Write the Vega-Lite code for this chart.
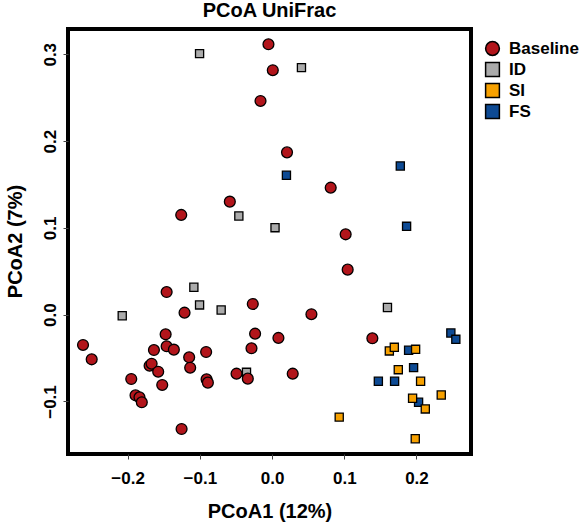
{
  "$schema": "https://vega.github.io/schema/vega-lite/v6.json",
  "width": 403,
  "height": 425,
  "autosize": {"type": "none"},
  "padding": {"left": 68, "top": 29, "right": 109, "bottom": 69},
  "background": "white",
  "title": {"text": "PCoA UniFrac", "frame": "group", "anchor": "middle", "baseline": "alphabetic", "offset": 10, "dy": 18},
  "config": {
    "font": "Liberation Sans",
    "view": {"stroke": "black", "strokeWidth": 4},
    "title": {"font": "Liberation Sans", "fontSize": 20, "fontWeight": "bold", "color": "black"},
    "axis": {
      "labelFont": "Liberation Sans", "labelFontSize": 17, "labelFontWeight": "bold", "labelColor": "black",
      "titleFont": "Liberation Sans", "titleFontSize": 20, "titleFontWeight": "bold", "titleColor": "black",
      "grid": false, "domain": false, "tickSize": 5, "tickColor": "#444", "tickWidth": 1
    },
    "legend": {
      "labelFont": "Liberation Sans", "labelFontSize": 17, "labelFontWeight": "bold", "labelColor": "black",
      "symbolStrokeColor": "black", "symbolStrokeWidth": 1.5, "symbolSize": 190, "rowPadding": 0, "labelOffset": 8
    }
  },
  "datasets": {
    "pts": [
      {"g": "ID", "x": -0.1004, "y": 0.3007},
      {"g": "ID", "x": 0.0407, "y": 0.2846},
      {"g": "ID", "x": -0.046, "y": 0.1137},
      {"g": "ID", "x": 0.0041, "y": 0.1002},
      {"g": "ID", "x": -0.1083, "y": 0.0316},
      {"g": "ID", "x": -0.1004, "y": 0.0112},
      {"g": "ID", "x": -0.0705, "y": 0.0054},
      {"g": "ID", "x": -0.2075, "y": -0.0012},
      {"g": "ID", "x": 0.1598, "y": 0.0083},
      {"g": "ID", "x": -0.0354, "y": -0.0664},
      {"g": "FS", "x": 0.0199, "y": 0.1606},
      {"g": "FS", "x": 0.1776, "y": 0.1713},
      {"g": "FS", "x": 0.1863, "y": 0.1018},
      {"g": "FS", "x": 0.2476, "y": -0.0211},
      {"g": "FS", "x": 0.2545, "y": -0.0284},
      {"g": "FS", "x": 0.1891, "y": -0.041},
      {"g": "FS", "x": 0.196, "y": -0.061},
      {"g": "FS", "x": 0.1472, "y": -0.0767},
      {"g": "FS", "x": 0.1697, "y": -0.0767},
      {"g": "FS", "x": 0.2029, "y": -0.1009},
      {"g": "SI", "x": 0.1624, "y": -0.0418},
      {"g": "SI", "x": 0.1693, "y": -0.0376},
      {"g": "SI", "x": 0.1988, "y": -0.0399},
      {"g": "SI", "x": 0.1748, "y": -0.0634},
      {"g": "SI", "x": 0.2057, "y": -0.0767},
      {"g": "SI", "x": 0.2343, "y": -0.0925},
      {"g": "SI", "x": 0.1946, "y": -0.0963},
      {"g": "SI", "x": 0.2122, "y": -0.1086},
      {"g": "SI", "x": 0.093, "y": -0.118},
      {"g": "SI", "x": 0.1983, "y": -0.1429},
      {"g": "Baseline", "x": -0.005, "y": 0.3115},
      {"g": "Baseline", "x": 0.001, "y": 0.2816},
      {"g": "Baseline", "x": -0.016, "y": 0.2462},
      {"g": "Baseline", "x": 0.0207, "y": 0.187},
      {"g": "Baseline", "x": 0.0812, "y": 0.1463},
      {"g": "Baseline", "x": -0.0585, "y": 0.1302},
      {"g": "Baseline", "x": -0.1258, "y": 0.1149},
      {"g": "Baseline", "x": 0.1019, "y": 0.0926},
      {"g": "Baseline", "x": 0.1047, "y": 0.0519},
      {"g": "Baseline", "x": -0.146, "y": 0.0261},
      {"g": "Baseline", "x": -0.0267, "y": 0.0123},
      {"g": "Baseline", "x": -0.1212, "y": 0.0023},
      {"g": "Baseline", "x": 0.0545, "y": 0.0005},
      {"g": "Baseline", "x": -0.2618, "y": -0.0349},
      {"g": "Baseline", "x": -0.2498, "y": -0.0514},
      {"g": "Baseline", "x": -0.1474, "y": -0.0226},
      {"g": "Baseline", "x": -0.146, "y": -0.0364},
      {"g": "Baseline", "x": -0.136, "y": -0.0403},
      {"g": "Baseline", "x": -0.1636, "y": -0.0407},
      {"g": "Baseline", "x": -0.1148, "y": -0.0491},
      {"g": "Baseline", "x": -0.1134, "y": -0.0611},
      {"g": "Baseline", "x": -0.0913, "y": -0.043},
      {"g": "Baseline", "x": -0.1696, "y": -0.0588},
      {"g": "Baseline", "x": -0.1668, "y": -0.0565},
      {"g": "Baseline", "x": -0.1577, "y": -0.0657},
      {"g": "Baseline", "x": -0.1521, "y": -0.081},
      {"g": "Baseline", "x": -0.195, "y": -0.0741},
      {"g": "Baseline", "x": -0.1891, "y": -0.0929},
      {"g": "Baseline", "x": -0.1836, "y": -0.0952},
      {"g": "Baseline", "x": -0.1804, "y": -0.1009},
      {"g": "Baseline", "x": -0.1253, "y": -0.1317},
      {"g": "Baseline", "x": -0.0907, "y": -0.0744},
      {"g": "Baseline", "x": -0.0889, "y": -0.0783},
      {"g": "Baseline", "x": -0.0235, "y": -0.0219},
      {"g": "Baseline", "x": 0.0088, "y": -0.0268},
      {"g": "Baseline", "x": -0.0285, "y": -0.0387},
      {"g": "Baseline", "x": -0.0492, "y": -0.068},
      {"g": "Baseline", "x": -0.0336, "y": -0.0737},
      {"g": "Baseline", "x": 0.0286, "y": -0.068},
      {"g": "Baseline", "x": 0.1389, "y": -0.0272}
    ]
  },
  "layer": [
    {
      "mark": {"type": "rule", "color": "#cccccc", "strokeWidth": 1.2},
      "encoding": {"x": {"datum": 0, "type": "quantitative"}}
    },
    {
      "mark": {"type": "rule", "color": "#cccccc", "strokeWidth": 1.2},
      "encoding": {"y": {"datum": 0, "type": "quantitative"}}
    },
    {
      "data": {"name": "pts"},
      "mark": {"type": "point", "filled": true, "opacity": 1, "stroke": "black", "strokeWidth": 1.3},
      "encoding": {
        "x": {
          "field": "x", "type": "quantitative",
          "scale": {"domain": [-0.2826, 0.2755], "nice": false, "zero": false},
          "axis": {"title": "PCoA1 (12%)", "values": [-0.2, -0.1, 0, 0.1, 0.2], "format": ".1f", "labelPadding": 11, "titleBaseline": "alphabetic", "titleY": 63}
        },
        "y": {
          "field": "y", "type": "quantitative",
          "scale": {"domain": [-0.1605, 0.3291], "nice": false, "zero": false},
          "axis": {"title": "PCoA2 (7%)", "values": [-0.1, 0, 0.1, 0.2, 0.3], "format": ".1f", "labelAngle": 270, "labelAlign": "center", "labelBaseline": "alphabetic", "labelPadding": 8, "titleBaseline": "alphabetic", "titleX": -47, "titleY": 212, "titleAngle": 270, "titleAlign": "center"}
        },
        "color": {
          "field": "g", "type": "nominal",
          "scale": {"domain": ["Baseline", "ID", "SI", "FS"], "range": ["#B2151B", "#ABABAB", "#F7A100", "#0D4A94"]},
          "legend": {"title": null, "orient": "none", "legendX": 416, "legendY": 11, "symbolSize": 190}
        },
        "shape": {
          "field": "g", "type": "nominal",
          "scale": {"domain": ["Baseline", "ID", "SI", "FS"], "range": ["circle", "square", "square", "square"]},
          "legend": {"title": null, "orient": "none", "legendX": 416, "legendY": 11, "symbolSize": 190}
        },
        "size": {
          "condition": {"test": "datum.g === 'Baseline'", "value": 118},
          "value": 66
        }
      }
    }
  ]
}
